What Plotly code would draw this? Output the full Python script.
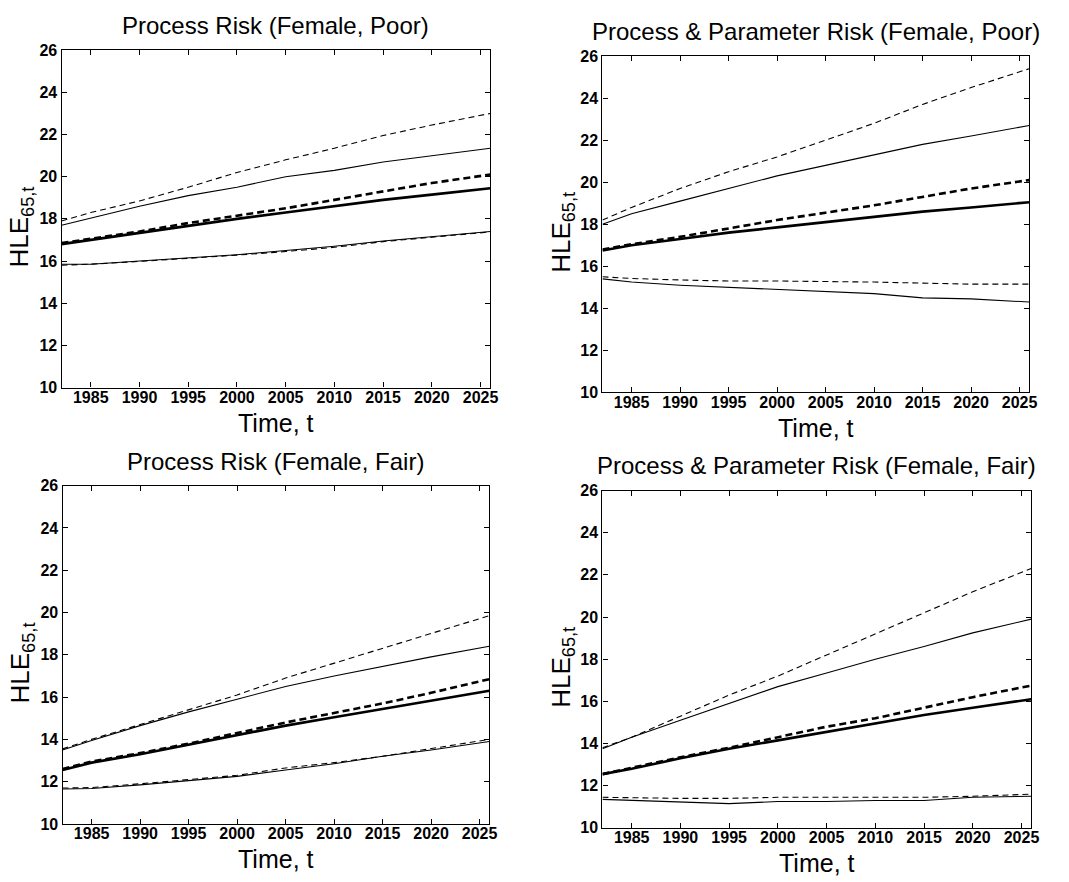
import plotly.graph_objects as go

W, H = 1069, 882

# ---------------- data ----------------
years = [1982, 1985, 1990, 1995, 2000, 2005, 2010, 2015, 2020, 2026]

# Process Risk (Female, Poor)
p_poor_up_dash = [17.9, 18.3, 18.85, 19.5, 20.2, 20.8, 21.35, 21.95, 22.45, 23.0]
p_poor_up_sol = [17.7, 18.05, 18.6, 19.1, 19.5, 20.0, 20.3, 20.7, 21.0, 21.35]
p_poor_med_dash = [16.85, 17.05, 17.4, 17.8, 18.15, 18.5, 18.9, 19.3, 19.7, 20.1]
p_poor_med_sol = [16.8, 17.0, 17.35, 17.7, 18.0, 18.3, 18.6, 18.9, 19.15, 19.45]
p_poor_lo_sol = [15.85, 15.85, 16.0, 16.15, 16.3, 16.5, 16.7, 16.95, 17.15, 17.4]
p_poor_lo_dash = [15.8, 15.85, 15.98, 16.12, 16.28, 16.45, 16.65, 16.92, 17.12, 17.38]

# Process & Parameter Risk (Female, Poor)
pp_poor_up_dash = [18.2, 18.8, 19.7, 20.5, 21.2, 22.0, 22.8, 23.7, 24.5, 25.4]
pp_poor_up_sol = [18.0, 18.5, 19.1, 19.7, 20.3, 20.8, 21.3, 21.8, 22.2, 22.7]
pp_poor_med_dash = [16.8, 17.05, 17.4, 17.8, 18.2, 18.55, 18.9, 19.3, 19.7, 20.1]
pp_poor_med_sol = [16.75, 17.0, 17.3, 17.6, 17.85, 18.1, 18.35, 18.6, 18.8, 19.05]
pp_poor_lo_dash = [15.5, 15.42, 15.35, 15.3, 15.3, 15.28, 15.25, 15.2, 15.15, 15.15]
pp_poor_lo_sol = [15.4, 15.25, 15.1, 15.0, 14.9, 14.8, 14.7, 14.5, 14.45, 14.3]

# Process Risk (Female, Fair)
p_fair_up_dash = [13.55, 14.0, 14.7, 15.4, 16.1, 16.9, 17.6, 18.3, 19.0, 19.85]
p_fair_up_sol = [13.5, 13.95, 14.65, 15.3, 15.9, 16.5, 17.0, 17.45, 17.9, 18.4]
p_fair_med_dash = [12.6, 12.95, 13.35, 13.8, 14.3, 14.8, 15.25, 15.7, 16.2, 16.85]
p_fair_med_sol = [12.55, 12.9, 13.3, 13.75, 14.2, 14.65, 15.05, 15.45, 15.85, 16.3]
p_fair_lo_sol = [11.65, 11.68, 11.85, 12.05, 12.25, 12.55, 12.85, 13.2, 13.5, 13.9]
p_fair_lo_dash = [11.7, 11.72, 11.9, 12.1, 12.3, 12.65, 12.9, 13.2, 13.55, 14.0]

# Process & Parameter Risk (Female, Fair)
pp_fair_up_dash = [13.8, 14.3, 15.3, 16.3, 17.2, 18.2, 19.2, 20.2, 21.2, 22.3]
pp_fair_up_sol = [13.75, 14.3, 15.1, 15.9, 16.7, 17.35, 18.0, 18.6, 19.25, 19.9]
pp_fair_med_dash = [12.55, 12.85, 13.35, 13.8, 14.3, 14.8, 15.2, 15.7, 16.2, 16.75]
pp_fair_med_sol = [12.55, 12.8, 13.3, 13.75, 14.15, 14.55, 14.95, 15.35, 15.7, 16.1]
pp_fair_lo_dash = [11.45, 11.42, 11.4, 11.4, 11.45, 11.45, 11.45, 11.45, 11.5, 11.6]
pp_fair_lo_sol = [11.35, 11.3, 11.25, 11.15, 11.25, 11.25, 11.3, 11.3, 11.45, 11.5]

titles = ["Process Risk (Female, Poor)", "Process & Parameter Risk (Female, Poor)",
          "Process Risk (Female, Fair)", "Process & Parameter Risk (Female, Fair)"]
x_ticks = [1985, 1990, 1995, 2000, 2005, 2010, 2015, 2020, 2025]
y_ticks = [10, 12, 14, 16, 18, 20, 22, 24, 26]

panels = [
    [p_poor_up_dash, p_poor_up_sol, p_poor_med_dash, p_poor_med_sol, p_poor_lo_sol, p_poor_lo_dash],
    [pp_poor_up_dash, pp_poor_up_sol, pp_poor_med_dash, pp_poor_med_sol, pp_poor_lo_dash, pp_poor_lo_sol],
    [p_fair_up_dash, p_fair_up_sol, p_fair_med_dash, p_fair_med_sol, p_fair_lo_sol, p_fair_lo_dash],
    [pp_fair_up_dash, pp_fair_up_sol, pp_fair_med_dash, pp_fair_med_sol, pp_fair_lo_dash, pp_fair_lo_sol],
]
styles_by_panel = [
    [("dash", 1.1), ("solid", 1.1), ("dash", 2.6), ("solid", 2.6), ("solid", 1.1), ("dash", 1.1)],
    [("dash", 1.1), ("solid", 1.1), ("dash", 2.6), ("solid", 2.6), ("dash", 1.1), ("solid", 1.1)],
    [("dash", 1.1), ("solid", 1.1), ("dash", 2.6), ("solid", 2.6), ("solid", 1.1), ("dash", 1.1)],
    [("dash", 1.1), ("solid", 1.1), ("dash", 2.6), ("solid", 2.6), ("dash", 1.1), ("solid", 1.1)],
]

# plot-area boxes in pixels: left, right, top, bottom
boxes = [(62, 494, 43, 387), (607, 1037, 49, 392), (63, 493, 487, 832), (607, 1039, 492, 836)]


def px(x):
    return x / W


def py(y):
    return 1 - y / H


fig = go.Figure()
FONT = "Liberation Sans, Arial, Helvetica, sans-serif"
annotations = []
layout = {}
for i, (series, styles, box, title) in enumerate(zip(panels, styles_by_panel, boxes, titles)):
    n = i + 1
    xa = "x" if n == 1 else f"x{n}"
    ya = "y" if n == 1 else f"y{n}"
    for vals, (dash, w) in zip(series, styles):
        dd = "solid"
        if dash == "dash":
            dd = "6px,4px" if w < 2 else "7px,4px"
        fig.add_trace(go.Scatter(x=years, y=vals, mode="lines", xaxis=xa, yaxis=ya,
                                 line=dict(color="black", width=w, dash=dd),
                                 showlegend=False, hoverinfo="skip"))
    l, r, t, b = box
    common = dict(showgrid=False, zeroline=False, showline=True, linecolor="black",
                  linewidth=1.2, mirror="ticks", ticks="inside", ticklen=5,
                  tickcolor="black", tickwidth=1,
                  tickfont=dict(family=FONT, size=16, color="black", weight="bold"))
    layout[f"xaxis{'' if n == 1 else n}"] = dict(
        common, domain=[px(l), px(r)], range=[1982, 2026], tickvals=x_ticks,
        anchor=ya, ticklabelstandoff=-5)
    layout[f"yaxis{'' if n == 1 else n}"] = dict(
        common, domain=[py(b), py(t)], range=[10, 26], tickvals=y_ticks,
        anchor=xa)
    cx = (l + r) / 2
    annotations.append(dict(text=title, x=px(cx), y=py(t - 25), xref="paper", yref="paper",
                            showarrow=False, font=dict(family=FONT, size=24, color="black"),
                            xanchor="center", yanchor="middle"))
    annotations.append(dict(text="Time, t", x=px(cx), y=py(b + 36), xref="paper", yref="paper",
                            showarrow=False, font=dict(family=FONT, size=25, color="black"),
                            xanchor="center", yanchor="middle"))
    annotations.append(dict(text="HLE<sub>65,t</sub>", x=px(l - 41), y=py((t + b) / 2 + 8), xref="paper",
                            yref="paper", showarrow=False, textangle=-90,
                            font=dict(family=FONT, size=26, color="black"),
                            xanchor="center", yanchor="middle"))

fig.update_layout(width=W, height=H, margin=dict(l=0, r=0, t=0, b=0),
                  paper_bgcolor="white", plot_bgcolor="white",
                  annotations=annotations, **layout)
fig.write_html("out.html", config={"displayModeBar": False},
               post_script="document.body.style.margin='0';")
